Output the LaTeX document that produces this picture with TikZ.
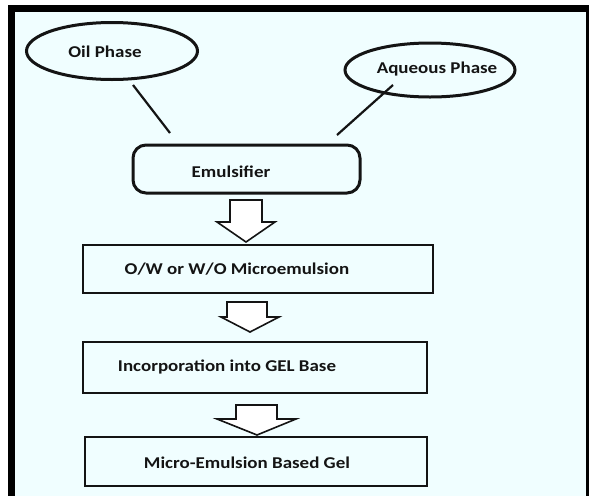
\documentclass[tikz,border=0pt]{standalone}
\usepackage{fontspec}
\setmainfont{Carlito}
\usetikzlibrary{shapes.geometric}
\definecolor{bgc}{RGB}{240,254,255}
\definecolor{ink}{RGB}{20,20,20}
\newcommand\tx[1]{\scalebox{1.15}[1]{#1}}
\tikzset{
  lbl/.style={font=\fontsize{16.5}{18}\selectfont\bfseries, text=ink, inner sep=0pt, anchor=center},
  oval/.style={ellipse, draw=ink, line width=3pt, fill=bgc, inner sep=0pt},
  pbox/.style={rectangle, draw=ink, line width=2.2pt, inner sep=0pt},
  blockarrow/.style={draw=ink, line width=1.6pt, fill=white, line join=miter},
  conn/.style={draw=ink, line width=2.2pt}
}
\begin{document}
\begin{tikzpicture}[x=1pt,y=-1pt]
\useasboundingbox (0,0) rectangle (589,496);
\fill[white] (0,0) rectangle (589,496);
\fill[black] (8,5) rectangle (589,496);
\fill[bgc] (15,12) rectangle (586,496);

% ovals
\node[oval, minimum width=171pt, minimum height=57pt] (oil) at (112,51) {};
\node[lbl] (oilT) at (105,52) {\tx{Oil Phase}};
\node[oval, minimum width=170pt, minimum height=54pt] (aq) at (430,70) {};
\node[lbl] (aqT) at (437,69) {\tx{Aqueous Phase}};

% emulsifier
\node[pbox, rounded corners=13pt, line width=3pt, minimum width=227pt, minimum height=48pt] (emu) at (246.5,169) {};
\node[lbl] (emuT) at (231,172) {\tx{Emulsifier}};

% connectors
\coordinate (o1) at (133,85);
\coordinate (o2) at (170,133);
\coordinate (a1) at (393,85);
\coordinate (a2) at (337,135);
\draw[conn] (o1) -- (o2);
\draw[conn] (a1) -- (a2);

% boxes
\node[pbox, minimum width=350pt, minimum height=48pt] (b2) at (258,269) {};
\node[lbl] (b2T) at (237,269) {\tx{O/W or W/O Microemulsion}};
\node[pbox, minimum width=344pt, minimum height=51pt] (b3) at (255,367.5) {};
\node[lbl] (b3T) at (227,367) {\tx{Incorporation into GEL Base}};
\node[pbox, minimum width=342pt, minimum height=49pt] (b4) at (256,461.5) {};
\node[lbl] (b4T) at (247,463) {\tx{Micro-Emulsion Based Gel}};

% block arrows
\draw[blockarrow] (230,200) -- (262,200) -- (262,222) -- (275,222) -- (246,242) -- (217,222) -- (230,222) -- cycle;
\draw[blockarrow] (227,302) -- (267,302) -- (267,317) -- (279,317) -- (250,332) -- (221,317) -- (227,317) -- cycle;
\draw[blockarrow] (236,405) -- (277,405) -- (277,419) -- (296,419) -- (257,435) -- (217,419) -- (236,419) -- cycle;
\end{tikzpicture}
\end{document}
